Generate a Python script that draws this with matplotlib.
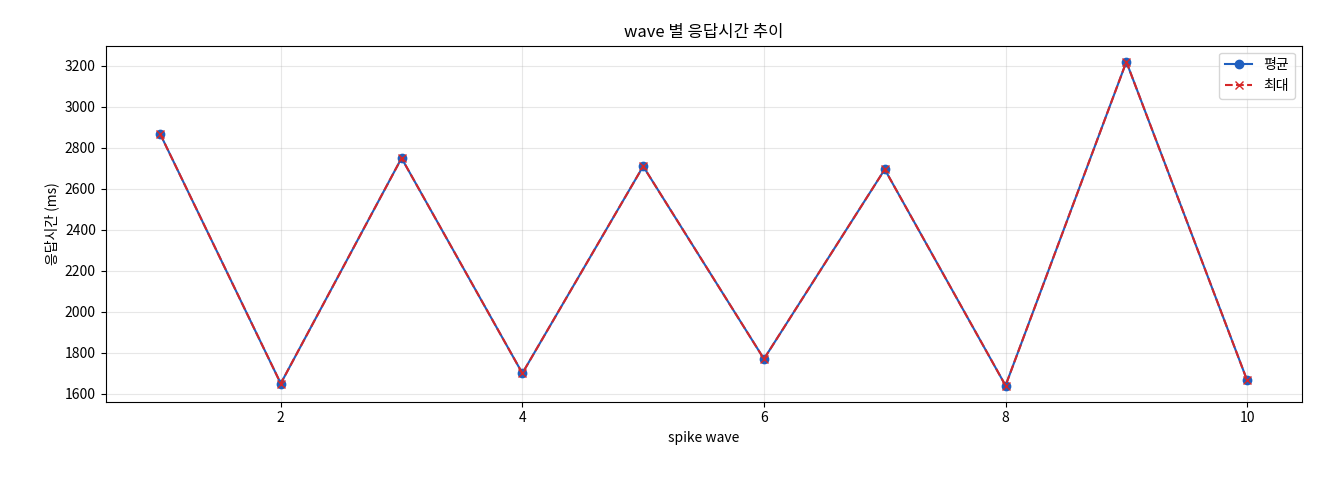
import matplotlib
matplotlib.use("Agg")
import matplotlib.pyplot as plt

plt.rcParams['font.family'] = ['Noto Sans CJK KR', 'DejaVu Sans']

waves = [1, 2, 3, 4, 5, 6, 7, 8, 9, 10]
avg_ms = [2870, 1650, 2750, 1700, 2710, 1770, 2695, 1640, 3220, 1665]
max_ms = [2870, 1650, 2750, 1700, 2710, 1770, 2695, 1640, 3220, 1665]

fig = plt.figure(figsize=(13.2, 4.8), dpi=100)
ax = fig.add_axes([0.080, 0.163, 0.906, 0.742])
ax.plot(waves, avg_ms, color='#1f5fbf', marker='o', markersize=6, linewidth=1.5, label='평균')
ax.plot(waves, max_ms, color='#d62728', marker='x', markersize=6, linewidth=1.5, linestyle='--', label='최대')
ax.set_title('wave 별 응답시간 추이', fontsize=12)
ax.set_xlabel('spike wave', fontsize=10)
ax.set_ylabel('응답시간 (ms)', fontsize=10)
ax.set_yticks(range(1600, 3201, 200))
ax.grid(True, alpha=0.3)
ax.legend(loc='upper right', fontsize=10)
fig.savefig('out.png', dpi=100)
